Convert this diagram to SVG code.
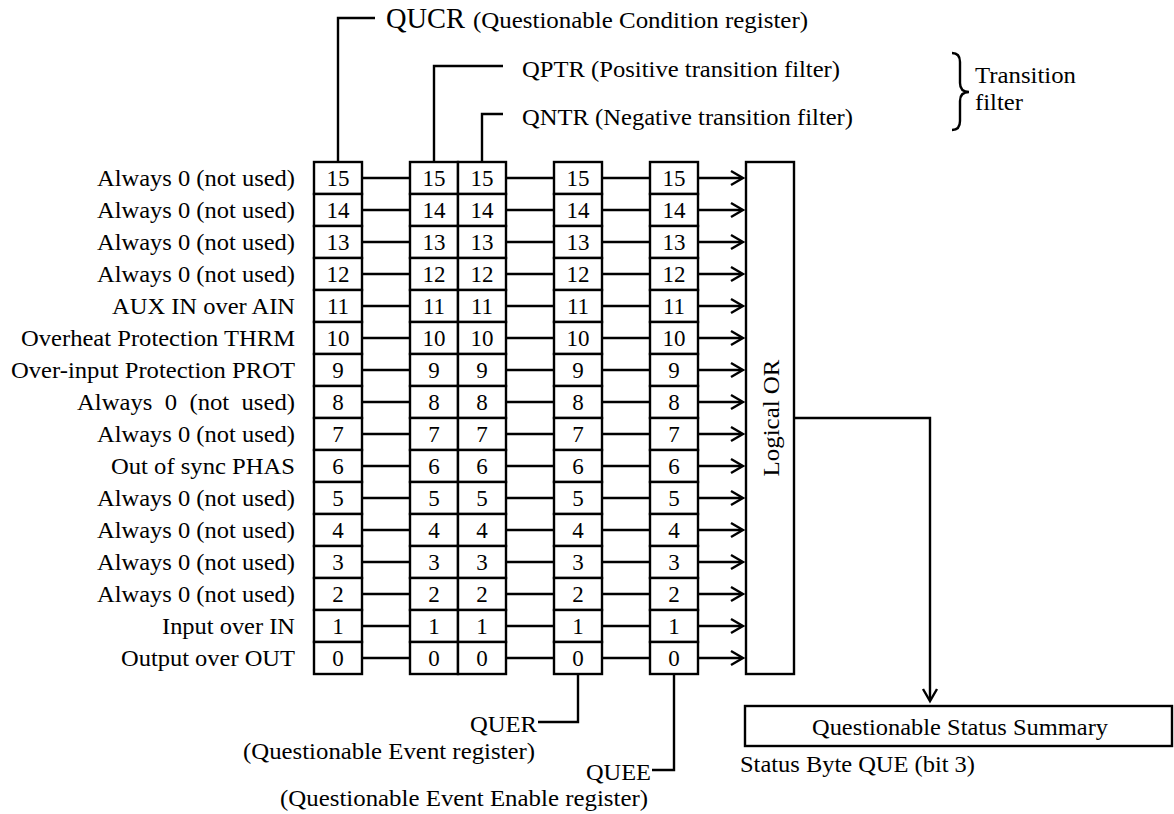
<svg xmlns="http://www.w3.org/2000/svg" width="1174" height="814" viewBox="0 0 1174 814">
<style>
.box{fill:#fff;stroke:#000;stroke-width:2.4}
.ln{fill:none;stroke:#000;stroke-width:2.4}
text{font-family:"Liberation Serif","Times New Roman",serif;fill:#000;font-size:23px}
.num{text-anchor:middle}
.end{text-anchor:end}
.mid{text-anchor:middle}
</style>
<defs>
<g id="col">
<rect class="box" x="0" y="162" width="48" height="32"/><rect class="box" x="0" y="194" width="48" height="32"/>
<rect class="box" x="0" y="226" width="48" height="32"/><rect class="box" x="0" y="258" width="48" height="32"/>
<rect class="box" x="0" y="290" width="48" height="32"/><rect class="box" x="0" y="322" width="48" height="32"/>
<rect class="box" x="0" y="354" width="48" height="32"/><rect class="box" x="0" y="386" width="48" height="32"/>
<rect class="box" x="0" y="418" width="48" height="32"/><rect class="box" x="0" y="450" width="48" height="32"/>
<rect class="box" x="0" y="482" width="48" height="32"/><rect class="box" x="0" y="514" width="48" height="32"/>
<rect class="box" x="0" y="546" width="48" height="32"/><rect class="box" x="0" y="578" width="48" height="32"/>
<rect class="box" x="0" y="610" width="48" height="32"/><rect class="box" x="0" y="642" width="48" height="32"/>
<text class="num" x="24" y="186">15</text><text class="num" x="24" y="218">14</text>
<text class="num" x="24" y="250">13</text><text class="num" x="24" y="282">12</text>
<text class="num" x="24" y="314">11</text><text class="num" x="24" y="346">10</text>
<text class="num" x="24" y="378">9</text><text class="num" x="24" y="410">8</text>
<text class="num" x="24" y="442">7</text><text class="num" x="24" y="474">6</text>
<text class="num" x="24" y="506">5</text><text class="num" x="24" y="538">4</text>
<text class="num" x="24" y="570">3</text><text class="num" x="24" y="602">2</text>
<text class="num" x="24" y="634">1</text><text class="num" x="24" y="666">0</text>
</g>
</defs>

<g id="labels">
<text class="end" x="295" y="186" textLength="198" lengthAdjust="spacingAndGlyphs">Always 0 (not used)</text>
<text class="end" x="295" y="218" textLength="198" lengthAdjust="spacingAndGlyphs">Always 0 (not used)</text>
<text class="end" x="295" y="250" textLength="198" lengthAdjust="spacingAndGlyphs">Always 0 (not used)</text>
<text class="end" x="295" y="282" textLength="198" lengthAdjust="spacingAndGlyphs">Always 0 (not used)</text>
<text class="end" x="295" y="314" textLength="183" lengthAdjust="spacingAndGlyphs">AUX IN over AIN</text>
<text class="end" x="295" y="346" textLength="274" lengthAdjust="spacingAndGlyphs">Overheat Protection THRM</text>
<text class="end" x="295" y="378" textLength="284" lengthAdjust="spacingAndGlyphs">Over-input Protection PROT</text>
<text class="end" x="295" y="410" textLength="218" lengthAdjust="spacingAndGlyphs" xml:space="preserve">Always  0  (not  used)</text>
<text class="end" x="295" y="442" textLength="198" lengthAdjust="spacingAndGlyphs">Always 0 (not used)</text>
<text class="end" x="295" y="474" textLength="184" lengthAdjust="spacingAndGlyphs">Out of sync PHAS</text>
<text class="end" x="295" y="506" textLength="198" lengthAdjust="spacingAndGlyphs">Always 0 (not used)</text>
<text class="end" x="295" y="538" textLength="198" lengthAdjust="spacingAndGlyphs">Always 0 (not used)</text>
<text class="end" x="295" y="570" textLength="198" lengthAdjust="spacingAndGlyphs">Always 0 (not used)</text>
<text class="end" x="295" y="602" textLength="198" lengthAdjust="spacingAndGlyphs">Always 0 (not used)</text>
<text class="end" x="295" y="634" textLength="133" lengthAdjust="spacingAndGlyphs">Input over IN</text>
<text class="end" x="295" y="666" textLength="174" lengthAdjust="spacingAndGlyphs">Output over OUT</text>
</g>

<g id="connectors">
<path class="ln" d="M362,178H410M362,210H410M362,242H410M362,274H410M362,306H410M362,338H410M362,370H410M362,402H410M362,434H410M362,466H410M362,498H410M362,530H410M362,562H410M362,594H410M362,626H410M362,658H410"/>
<path class="ln" d="M506,178H554M506,210H554M506,242H554M506,274H554M506,306H554M506,338H554M506,370H554M506,402H554M506,434H554M506,466H554M506,498H554M506,530H554M506,562H554M506,594H554M506,626H554M506,658H554"/>
<path class="ln" d="M602,178H650M602,210H650M602,242H650M602,274H650M602,306H650M602,338H650M602,370H650M602,402H650M602,434H650M602,466H650M602,498H650M602,530H650M602,562H650M602,594H650M602,626H650M602,658H650"/>
<path class="ln" d="M698,178H742M698,210H742M698,242H742M698,274H742M698,306H742M698,338H742M698,370H742M698,402H742M698,434H742M698,466H742M698,498H742M698,530H742M698,562H742M698,594H742M698,626H742M698,658H742"/>
<path class="ln" d="M731,171L743,178L731,185M731,203L743,210L731,217M731,235L743,242L731,249M731,267L743,274L731,281M731,299L743,306L731,313M731,331L743,338L731,345M731,363L743,370L731,377M731,395L743,402L731,409M731,427L743,434L731,441M731,459L743,466L731,473M731,491L743,498L731,505M731,523L743,530L731,537M731,555L743,562L731,569M731,587L743,594L731,601M731,619L743,626L731,633M731,651L743,658L731,665"/>
<path class="ln" d="M338,162V18H375"/>
<path class="ln" d="M434,162V66H503"/>
<path class="ln" d="M482,162V114H503"/>
<path class="ln" d="M578,674V722H538"/>
<path class="ln" d="M674,674V770H652"/>
<path class="ln" d="M794,418H930V700"/>
<path class="ln" d="M923,689L930,701L937,689"/>
<path class="ln" d="M952,53Q960,53 960,62V83Q960,92 969,92Q960,92 960,101V121Q960,130 952,130"/>
</g>

<g id="qucr"><use href="#col" x="314"/>
<text x="386" y="28" style="font-size:30px" textLength="79" lengthAdjust="spacingAndGlyphs">QUCR</text>
<text x="473" y="28" textLength="335" lengthAdjust="spacingAndGlyphs">(Questionable Condition register)</text>
</g>
<g id="qptr"><use href="#col" x="410"/>
<text x="522" y="77" textLength="318" lengthAdjust="spacingAndGlyphs">QPTR (Positive transition filter)</text>
</g>
<g id="qntr"><use href="#col" x="458"/>
<text x="522" y="125" textLength="331" lengthAdjust="spacingAndGlyphs">QNTR (Negative transition filter)</text>
</g>
<g id="transition-filter">
<text x="975" y="83" textLength="101" lengthAdjust="spacingAndGlyphs">Transition</text>
<text x="975" y="110" textLength="48" lengthAdjust="spacingAndGlyphs">filter</text>
</g>
<g id="quer"><use href="#col" x="554"/>
<text class="end" x="537" y="732" textLength="67" lengthAdjust="spacingAndGlyphs">QUER</text>
<text x="243" y="759" textLength="292" lengthAdjust="spacingAndGlyphs">(Questionable Event register)</text>
</g>
<g id="quee"><use href="#col" x="650"/>
<text class="end" x="651" y="780" textLength="65" lengthAdjust="spacingAndGlyphs">QUEE</text>
<text x="280" y="806" textLength="368" lengthAdjust="spacingAndGlyphs">(Questionable Event Enable register)</text>
</g>
<g id="logical-or">
<rect class="box" x="746" y="162" width="48" height="512"/>
<text class="mid" transform="translate(779,418) rotate(-90)" textLength="117" lengthAdjust="spacingAndGlyphs">Logical OR</text>
</g>
<g id="summary">
<rect class="box" x="745" y="706" width="427" height="40"/>
<text class="mid" x="960" y="735" textLength="296" lengthAdjust="spacingAndGlyphs">Questionable Status Summary</text>
<text x="740" y="772" textLength="235" lengthAdjust="spacingAndGlyphs">Status Byte QUE (bit 3)</text>
</g>
</svg>
